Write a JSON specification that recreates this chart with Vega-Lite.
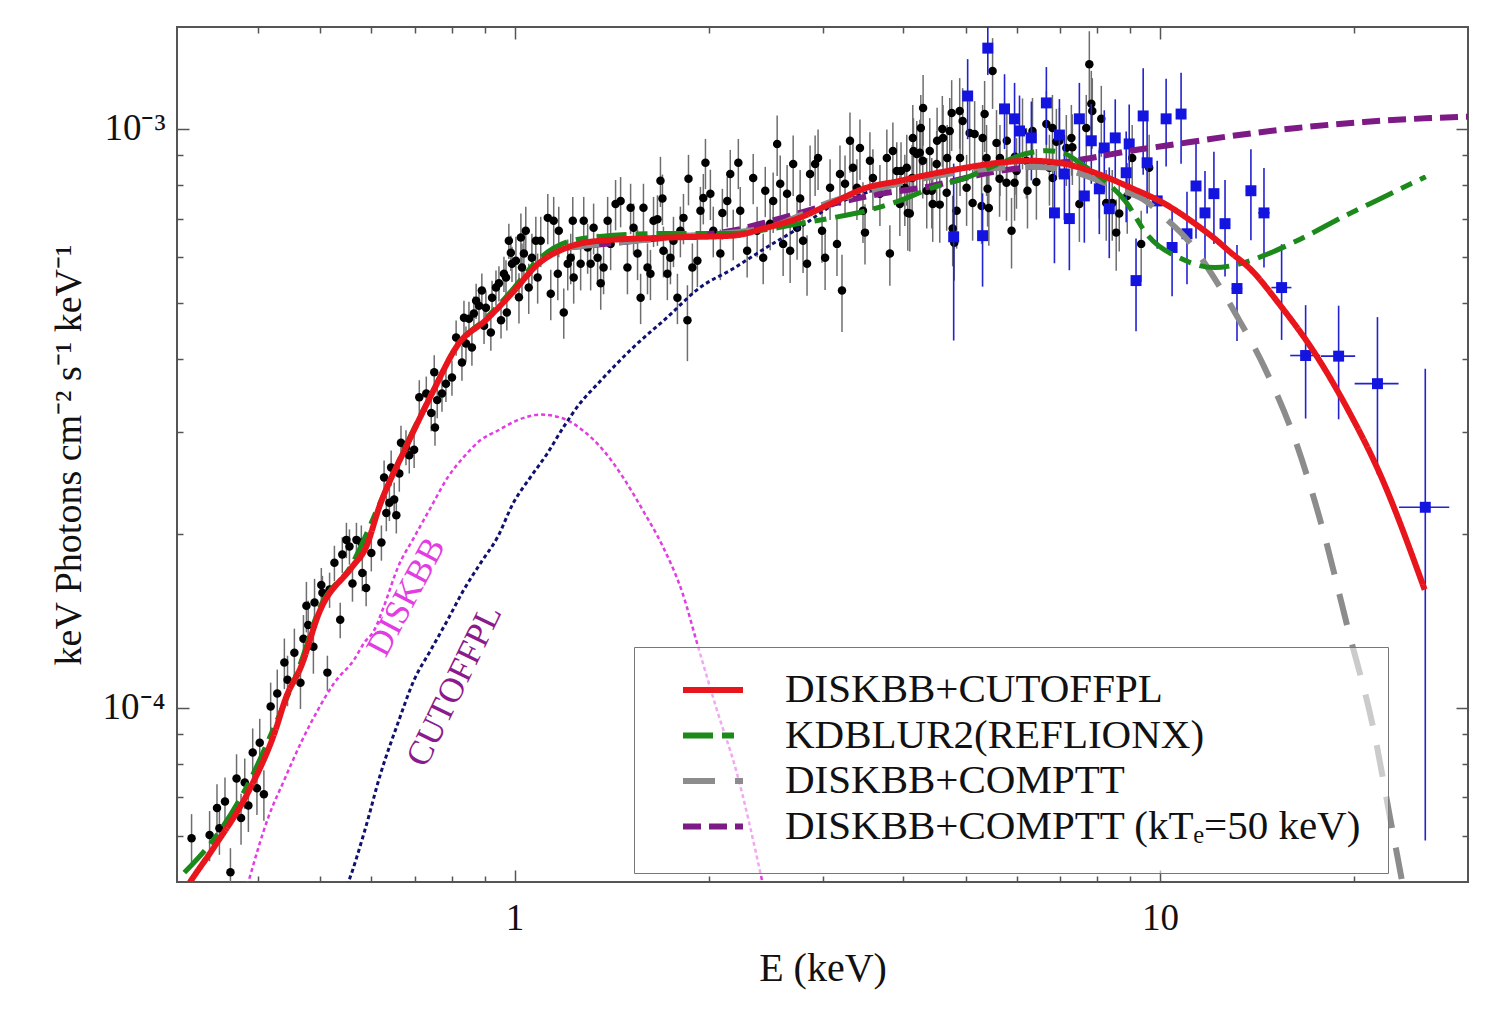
{
"$schema":"https://vega.github.io/schema/vega-lite/v6.json",
"width":1291,"height":855,
"autosize":{"type":"none"},
"padding":{"left":177,"top":27,"right":29,"bottom":137},
"background":"white",
"config":{
 "view":{"stroke":"#555","strokeWidth":2},
 "axis":{"grid":false,"domain":false,"tickColor":"#555","tickWidth":1.5,"labelFont":"Liberation Serif","titleFont":"Liberation Serif","labelFontSize":37,"titleFontSize":40,"titleFontWeight":"normal","labelColor":"#111","titleColor":"#111"}
},
"resolve":{"axis":{"x":"independent","y":"independent"}},
"datasets":{
"black":[
{"e":0.316,"f":5.95e-5,"d":6e-6},{"e":0.337,"f":6.03e-5,"d":6e-6},{"e":0.346,"f":6.71e-5,"d":6.7e-6},{"e":0.349,"f":6.19e-5,"d":6.2e-6},{"e":0.356,"f":6.89e-5,"d":6.9e-6},{"e":0.363,"f":5.2e-5,"d":5.2e-6},{"e":0.371,"f":7.55e-5,"d":7.6e-6},{"e":0.377,"f":6.45e-5,"d":6.5e-6},{"e":0.382,"f":7.43e-5,"d":7.4e-6},{"e":0.387,"f":6.78e-5,"d":6.8e-6},{"e":0.393,"f":8.37e-5,"d":8.4e-6},{"e":0.399,"f":7.26e-5,"d":7.3e-6},{"e":0.403,"f":8.7e-5,"d":8.7e-6},{"e":0.409,"f":7.09e-5,"d":7.1e-6},{"e":0.419,"f":1.005e-4,"d":1e-5},{"e":0.429,"f":1.058e-4,"d":1.06e-5},{"e":0.44,"f":1.197e-4,"d":1.2e-5},{"e":0.445,"f":1.118e-4,"d":1.12e-5},{"e":0.456,"f":1.245e-4,"d":1.25e-5},{"e":0.466,"f":1.105e-4,"d":1.1e-5},{"e":0.471,"f":1.316e-4,"d":1.3e-5},{"e":0.476,"f":1.5e-4,"d":1.5e-5},{"e":0.479,"f":1.39e-4,"d":1.4e-5},{"e":0.488,"f":1.275e-4,"d":1.3e-5},{"e":0.49,"f":1.52e-4,"d":1.5e-5},
{"e":0.502,"f":1.63e-4,"d":1.14e-5},{"e":0.504,"f":1.58e-4,"d":1.1e-5},{"e":0.513,"f":1.15e-4,"d":8e-6},{"e":0.517,"f":1.6e-4,"d":1.12e-5},{"e":0.526,"f":1.78e-4,"d":1.25e-5},{"e":0.537,"f":1.419e-4,"d":1e-5},{"e":0.541,"f":1.84e-4,"d":1.3e-5},{"e":0.549,"f":1.95e-4,"d":1.37e-5},{"e":0.555,"f":1.9e-4,"d":1.33e-5},{"e":0.561,"f":1.64e-4,"d":1.15e-5},{"e":0.569,"f":1.95e-4,"d":1.37e-5},{"e":0.579,"f":1.93e-4,"d":1.35e-5},{"e":0.581,"f":1.71e-4,"d":1.2e-5},{"e":0.589,"f":1.61e-4,"d":1.13e-5},{"e":0.6,"f":1.85e-4,"d":1.3e-5},{"e":0.622,"f":1.93e-4,"d":1.35e-5},{"e":0.628,"f":2.5e-4,"d":1.75e-5},{"e":0.633,"f":2.17e-4,"d":1.52e-5},{"e":0.64,"f":2.26e-4,"d":1.58e-5},{"e":0.644,"f":2.6e-4,"d":1.82e-5},{"e":0.651,"f":2.29e-4,"d":1.6e-5},{"e":0.656,"f":2.15e-4,"d":1.5e-5},{"e":0.663,"f":2.54e-4,"d":1.78e-5},{"e":0.667,"f":2.87e-4,"d":2e-5},{"e":0.679,"f":2.82e-4,"d":1.97e-5},{"e":0.687,"f":2.73e-4,"d":1.91e-5},{"e":0.699,"f":2.79e-4,"d":1.95e-5},{"e":0.712,"f":3.44e-4,"d":2.4e-5},{"e":0.73,"f":3.49e-4,"d":2.44e-5},{"e":0.743,"f":3.23e-4,"d":2.26e-5},{"e":0.751,"f":3.8e-4,"d":2.66e-5},{"e":0.753,"f":3.05e-4,"d":2.14e-5},{"e":0.759,"f":3.4e-4,"d":2.38e-5},{"e":0.772,"f":3.49e-4,"d":2.44e-5},{"e":0.783,"f":3.63e-4,"d":2.54e-5},{"e":0.8,"f":3.72e-4,"d":2.6e-5},{"e":0.812,"f":4.36e-4,"d":3.05e-5},{"e":0.829,"f":3.95e-4,"d":2.77e-5},{"e":0.835,"f":4.72e-4,"d":3.3e-5},{"e":0.841,"f":4.26e-4,"d":2.98e-5},{"e":0.85,"f":4.7e-4,"d":3.29e-5},{"e":0.859,"f":4.19e-4,"d":2.93e-5},{"e":0.865,"f":4.8e-4,"d":3.36e-5},{"e":0.872,"f":5.05e-4,"d":3.54e-5},{"e":0.881,"f":4.95e-4,"d":3.47e-5},{"e":0.89,"f":5.26e-4,"d":3.68e-5},{"e":0.897,"f":4.57e-4,"d":3.2e-5},{"e":0.903,"f":4.91e-4,"d":3.44e-5},{"e":0.919,"f":4.45e-4,"d":3.12e-5},{"e":0.923,"f":5.11e-4,"d":3.58e-5},{"e":0.936,"f":5.32e-4,"d":3.72e-5},{"e":0.946,"f":5.41e-4,"d":3.79e-5},{"e":0.953,"f":4.67e-4,"d":3.27e-5},{"e":0.963,"f":5.62e-4,"d":3.93e-5},{"e":0.97,"f":5.54e-4,"d":3.88e-5},{"e":0.973,"f":4.82e-4,"d":3.37e-5},{"e":0.98,"f":6.41e-4,"d":4.49e-5},{"e":0.987,"f":6.11e-4,"d":4.28e-5},{"e":0.991,"f":5.85e-4,"d":4.1e-5},
{"e":1.005,"f":5.92e-4,"d":5.9e-5},{"e":1.016,"f":5.12e-4,"d":5.1e-5},{"e":1.023,"f":6.49e-4,"d":6.5e-5},{"e":1.027,"f":5.76e-4,"d":5.8e-5},{"e":1.034,"f":6.09e-4,"d":6.1e-5},{"e":1.041,"f":6.67e-4,"d":6.7e-5},{"e":1.052,"f":5.32e-4,"d":5.3e-5},{"e":1.064,"f":5.99e-4,"d":6e-5},{"e":1.079,"f":6.41e-4,"d":6.4e-5},{"e":1.086,"f":5.54e-4,"d":5.5e-5},{"e":1.098,"f":6.41e-4,"d":6.4e-5},{"e":1.126,"f":7.02e-4,"d":7e-5},{"e":1.138,"f":5.19e-4,"d":5.2e-5},{"e":1.15,"f":6.94e-4,"d":6.9e-5},{"e":1.167,"f":5.62e-4,"d":5.6e-5},{"e":1.171,"f":6.67e-4,"d":6.7e-5},{"e":1.192,"f":4.82e-4,"d":4.8e-5},{"e":1.209,"f":5.85e-4,"d":5.9e-5},{"e":1.222,"f":5.99e-4,"d":6e-5},{"e":1.231,"f":6.94e-4,"d":6.9e-5},{"e":1.235,"f":5.54e-4,"d":5.5e-5},{"e":1.266,"f":5.85e-4,"d":5.9e-5},{"e":1.28,"f":6.94e-4,"d":6.9e-5},{"e":1.298,"f":6.24e-4,"d":6.2e-5},{"e":1.312,"f":5.85e-4,"d":5.9e-5},{"e":1.326,"f":6.75e-4,"d":6.8e-5},{"e":1.345,"f":5.99e-4,"d":6e-5},{"e":1.36,"f":5.41e-4,"d":5.4e-5},{"e":1.374,"f":5.76e-4,"d":5.8e-5},{"e":1.394,"f":6.94e-4,"d":6.9e-5},{"e":1.409,"f":6.33e-4,"d":6.3e-5},{"e":1.434,"f":7.42e-4,"d":7.4e-5},{"e":1.46,"f":7.51e-4,"d":7.5e-5},{"e":1.496,"f":5.76e-4,"d":5.8e-5},{"e":1.513,"f":7.31e-4,"d":7.3e-5},{"e":1.529,"f":6.75e-4,"d":6.8e-5},{"e":1.551,"f":6.09e-4,"d":6.1e-5},{"e":1.568,"f":5.11e-4,"d":5.1e-5},{"e":1.584,"f":7.31e-4,"d":7.3e-5},{"e":1.607,"f":5.76e-4,"d":5.8e-5},{"e":1.624,"f":5.62e-4,"d":5.6e-5},{"e":1.642,"f":6.94e-4,"d":6.9e-5},{"e":1.665,"f":6.98e-4,"d":7e-5},{"e":1.683,"f":8.14e-4,"d":8.1e-5},{"e":1.695,"f":7.58e-4,"d":7.6e-5},{"e":1.701,"f":6.16e-4,"d":6.2e-5},{"e":1.725,"f":5.62e-4,"d":5.6e-5},{"e":1.744,"f":5.99e-4,"d":6e-5},{"e":1.763,"f":6.41e-4,"d":6.4e-5},{"e":1.788,"f":5.11e-4,"d":5.1e-5},{"e":1.807,"f":6.67e-4,"d":6.7e-5},{"e":1.827,"f":7.02e-4,"d":7e-5},{"e":1.853,"f":4.67e-4,"d":7e-5},{"e":1.86,"f":8.2e-4,"d":8.2e-5},{"e":1.886,"f":5.76e-4,"d":5.8e-5},{"e":1.92,"f":5.92e-4,"d":5.9e-5},{"e":1.941,"f":7.22e-4,"d":7.2e-5},{"e":1.961,"f":7.6e-4,"d":7.6e-5},{"e":1.976,"f":8.74e-4,"d":8.7e-5},{"e":2.011,"f":7.73e-4,"d":7.7e-5},{"e":2.032,"f":6.67e-4,"d":6.7e-5},{"e":2.084,"f":6.09e-4,"d":6.1e-5},{"e":2.099,"f":7.16e-4,"d":7.2e-5},{"e":2.136,"f":7.51e-4,"d":7.5e-5},{"e":2.159,"f":8.36e-4,"d":8.4e-5},{"e":2.182,"f":6.59e-4,"d":6.6e-5},{"e":2.222,"f":8.74e-4,"d":8.7e-5},{"e":2.237,"f":7.22e-4,"d":7.2e-5},{"e":2.293,"f":6.16e-4,"d":6.2e-5},{"e":2.343,"f":8.23e-4,"d":8.2e-5},{"e":2.376,"f":6.67e-4,"d":6.7e-5},{"e":2.428,"f":5.99e-4,"d":6e-5},{"e":2.446,"f":7.82e-4,"d":7.8e-5},{"e":2.489,"f":6.86e-4,"d":6.9e-5},
{"e":2.516,"f":7.51e-4,"d":9e-5},{"e":2.552,"f":9.42e-4,"d":1.13e-4},{"e":2.58,"f":8.04e-4,"d":9.6e-5},{"e":2.607,"f":6.33e-4,"d":7.6e-5},{"e":2.644,"f":7.73e-4,"d":9.3e-5},{"e":2.673,"f":6.16e-4,"d":7.4e-5},{"e":2.702,"f":8.7e-4,"d":1.04e-4},{"e":2.74,"f":6.75e-4,"d":8.1e-5},{"e":2.77,"f":7.58e-4,"d":9.1e-5},{"e":2.799,"f":6.41e-4,"d":7.7e-5},{"e":2.839,"f":5.85e-4,"d":7e-5},{"e":2.87,"f":8.36e-4,"d":1e-4},{"e":2.922,"f":8.7e-4,"d":1.04e-4},{"e":2.953,"f":8.91e-4,"d":1.07e-4},{"e":2.995,"f":6.67e-4,"d":8e-5},{"e":3.028,"f":5.99e-4,"d":7.2e-5},{"e":3.082,"f":7.91e-4,"d":9.5e-5},{"e":3.159,"f":6.33e-4,"d":7.6e-5},{"e":3.193,"f":8.36e-4,"d":1e-4},{"e":3.216,"f":5.26e-4,"d":8e-5},{"e":3.251,"f":8.04e-4,"d":9.6e-5},{"e":3.309,"f":9.54e-4,"d":1.14e-4},{"e":3.344,"f":8.57e-4,"d":1.03e-4},{"e":3.392,"f":7.91e-4,"d":9.5e-5},{"e":3.429,"f":9.27e-4,"d":1.11e-4},{"e":3.466,"f":7.22e-4,"d":8.7e-5},{"e":3.491,"f":6.62e-4,"d":7.9e-5},{"e":3.553,"f":8.81e-4,"d":1.06e-4},{"e":3.591,"f":8.23e-4,"d":9.9e-5},{"e":3.682,"f":7.73e-4,"d":9.3e-5},{"e":3.774,"f":8.91e-4,"d":1.07e-4},{"e":3.815,"f":6.09e-4,"d":7.3e-5},{"e":3.856,"f":9.16e-4,"d":1.1e-4},{"e":3.91,"f":8.46e-4,"d":1.02e-4},{"e":3.953,"f":7.42e-4,"d":8.9e-5},{"e":3.97,"f":8.46e-4,"d":1.02e-4},
{"e":4.024,"f":7.91e-4,"d":1.11e-4},{"e":4.052,"f":8.57e-4,"d":1.2e-4},{"e":4.067,"f":7.16e-4,"d":1e-4},{"e":4.096,"f":7.14e-4,"d":1e-4},{"e":4.13,"f":8.23e-4,"d":1.15e-4},{"e":4.14,"f":9.65e-4,"d":1.35e-4},{"e":4.15,"f":9.16e-4,"d":1.28e-4},{"e":4.199,"f":9.05e-4,"d":1.27e-4},{"e":4.245,"f":9.1e-4,"d":1.27e-4},{"e":4.26,"f":1.004e-3,"d":1.4e-4},{"e":4.29,"f":8.81e-4,"d":1.23e-4},{"e":4.295,"f":1.087e-3,"d":1.52e-4},{"e":4.351,"f":7.82e-4,"d":1.09e-4},{"e":4.398,"f":9.16e-4,"d":1.28e-4},{"e":4.43,"f":7.82e-4,"d":1.09e-4},{"e":4.445,"f":7.42e-4,"d":1.04e-4},{"e":4.508,"f":8.7e-4,"d":1.22e-4},{"e":4.515,"f":9.54e-4,"d":1.34e-4},{"e":4.558,"f":7.4e-4,"d":1.04e-4},{"e":4.6,"f":1.0e-3,"d":1.4e-4},{"e":4.612,"f":9.65e-4,"d":1.35e-4},{"e":4.672,"f":7.76e-4,"d":1.09e-4},{"e":4.68,"f":8.91e-4,"d":1.25e-4},{"e":4.723,"f":9.92e-4,"d":1.39e-4},{"e":4.756,"f":1.065e-3,"d":1.49e-4},{"e":4.773,"f":6.73e-4,"d":9.4e-5},{"e":4.8,"f":6.36e-4,"d":8.9e-5},{"e":4.841,"f":7.22e-4,"d":1.01e-4},{"e":4.894,"f":1.074e-3,"d":1.5e-4},{"e":4.9,"f":8.91e-4,"d":1.25e-4},{"e":4.946,"f":1.032e-3,"d":1.44e-4},{"e":5.016,"f":7.91e-4,"d":1.11e-4},{"e":5.071,"f":9.84e-4,"d":1.38e-4},{"e":5.125,"f":7.45e-4,"d":1.04e-4},{"e":5.162,"f":9.8e-4,"d":1.37e-4},{"e":5.292,"f":7.36e-4,"d":1.03e-4},{"e":5.311,"f":9.65e-4,"d":1.35e-4},{"e":5.349,"f":1.061e-3,"d":1.49e-4},{"e":5.386,"f":8.91e-4,"d":1.25e-4},{"e":5.406,"f":7.88e-4,"d":1.1e-4},{"e":5.43,"f":7.3e-4,"d":1.02e-4},{"e":5.503,"f":1.259e-3,"d":1.76e-4},{"e":5.581,"f":9.46e-4,"d":1.32e-4},{"e":5.642,"f":8.2e-4,"d":1.15e-4},{"e":5.65,"f":8.91e-4,"d":1.25e-4},{"e":5.783,"f":8.07e-4,"d":1.13e-4},{"e":5.79,"f":9.54e-4,"d":1.34e-4},{"e":5.888,"f":6.67e-4,"d":9.3e-5},{"e":5.952,"f":8.07e-4,"d":1.13e-4},{"e":5.96,"f":8.95e-4,"d":1.25e-4},{"e":5.993,"f":8.46e-4,"d":1.18e-4},{"e":6.123,"f":9.9e-4,"d":1.39e-4},{"e":6.209,"f":8.81e-4,"d":1.23e-4},{"e":6.233,"f":7.82e-4,"d":1.09e-4},{"e":6.345,"f":9.92e-4,"d":1.39e-4},{"e":6.434,"f":8.1e-4,"d":1.13e-4},{"e":6.667,"f":1.02e-3,"d":1.43e-4},{"e":6.74,"f":8.57e-4,"d":1.2e-4},{"e":6.813,"f":1.004e-3,"d":1.41e-4},{"e":6.82,"f":8.23e-4,"d":1.15e-4},{"e":6.909,"f":9.5e-4,"d":1.33e-4},{"e":6.985,"f":9.54e-4,"d":1.34e-4},{"e":7.159,"f":9.27e-4,"d":1.3e-4},{"e":7.289,"f":9.65e-4,"d":1.35e-4},{"e":7.315,"f":9.3e-4,"d":1.3e-4},{"e":7.5,"f":7.42e-4,"d":1.04e-4},{"e":7.687,"f":1.004e-3,"d":1.41e-4},{"e":7.771,"f":1.294e-3,"d":1.81e-4},{"e":7.826,"f":1.105e-3,"d":1.55e-4},{"e":7.854,"f":1.074e-3,"d":1.5e-4},{"e":8.053,"f":8.14e-4,"d":1.14e-4},{"e":8.11,"f":1.041e-3,"d":1.46e-4},{"e":8.254,"f":7.45e-4,"d":1.04e-4},{"e":8.433,"f":7.45e-4,"d":1.04e-4},{"e":8.553,"f":6.62e-4,"d":9.3e-5},{"e":8.646,"f":7.14e-4,"d":1e-4},{"e":8.897,"f":7.66e-4,"d":1.07e-4},{"e":9.055,"f":8.91e-4,"d":1.25e-4},{"e":9.35,"f":6.33e-4,"d":8.9e-5},{"e":9.62,"f":8.57e-4,"d":1.2e-4}
],
"blue":[
{"e":4.79,"f":6.51e-4,"d":2.2e-4,"dx":0},{"e":5.035,"f":1.14e-3,"d":1.8e-4,"dx":0},{"e":5.31,"f":6.54e-4,"d":1.2e-4,"dx":0},{"e":5.41,"f":1.379e-3,"d":1.4e-4,"dx":0},{"e":5.743,"f":1.083e-3,"d":1.6e-4,"dx":0},{"e":5.952,"f":1.041e-3,"d":1.6e-4,"dx":0},{"e":6.058,"f":9.92e-4,"d":1.5e-4,"dx":0},{"e":6.32,"f":9.65e-4,"d":1.5e-4,"dx":0},{"e":6.667,"f":1.109e-3,"d":1.7e-4,"dx":0},{"e":6.862,"f":7.16e-4,"d":1.3e-4,"dx":0},{"e":6.985,"f":9.76e-4,"d":1.5e-4,"dx":0},{"e":7.11,"f":8.36e-4,"d":1.4e-4,"dx":0},{"e":7.237,"f":7.0e-4,"d":1.3e-4,"dx":0},{"e":7.5,"f":1.041e-3,"d":1.6e-4,"dx":0},{"e":7.634,"f":7.66e-4,"d":1.3e-4,"dx":0},{"e":7.826,"f":9.54e-4,"d":1.5e-4,"dx":0},{"e":8.053,"f":7.88e-4,"d":1.3e-4,"dx":0},{"e":8.197,"f":9.27e-4,"d":1.5e-4,"dx":0},{"e":8.344,"f":7.28e-4,"d":1.3e-4,"dx":0},{"e":8.524,"f":9.65e-4,"d":1.6e-4,"dx":0},{"e":8.863,"f":8.4e-4,"d":1.5e-4,"dx":0},{"e":8.959,"f":9.42e-4,"d":1.6e-4,"dx":0},{"e":9.18,"f":5.47e-4,"d":1.0e-4,"dx":0},{"e":9.417,"f":1.053e-3,"d":2.2e-4,"dx":0},{"e":9.55,"f":8.74e-4,"d":1.6e-4,"dx":0},{"e":9.9,"f":7.51e-4,"d":1.3e-4,"dx":0},{"e":10.22,"f":1.041e-3,"d":1.8e-4,"dx":0},{"e":10.44,"f":6.24e-4,"d":1.1e-4,"dx":0},{"e":10.78,"f":1.061e-3,"d":1.9e-4,"dx":0},{"e":11.01,"f":6.59e-4,"d":1.2e-4,"dx":0},{"e":11.37,"f":7.97e-4,"d":1.5e-4,"dx":0},{"e":11.74,"f":7.16e-4,"d":1.3e-4,"dx":0},{"e":12.12,"f":7.73e-4,"d":1.4e-4,"dx":0},{"e":12.61,"f":6.86e-4,"d":1.3e-4,"dx":0},{"e":13.16,"f":5.3e-4,"d":1.0e-4,"dx":0.25},{"e":13.83,"f":7.82e-4,"d":1.4e-4,"dx":0.25},{"e":14.49,"f":7.16e-4,"d":1.4e-4,"dx":0.3},{"e":15.43,"f":5.32e-4,"d":1.0e-4,"dx":0.55},{"e":16.81,"f":4.06e-4,"d":9e-5,"dx":0.9},{"e":18.91,"f":4.05e-4,"d":9e-5,"dx":1.15},{"e":21.72,"f":3.63e-4,"d":1.1e-4,"dx":1.7},{"e":25.76,"f":2.22e-4,"d":1.63e-4,"dx":2.3}
],
"red":[{"e":0.31,"f":4.88e-5},{"e":0.314,"f":4.99e-5},{"e":0.343,"f":5.76e-5},{"e":0.387,"f":7.16e-5},{"e":0.425,"f":9.06e-5},{"e":0.443,"f":1.044e-4},{"e":0.467,"f":1.178e-4},{"e":0.498,"f":1.459e-4},{"e":0.56,"f":1.75e-4},{"e":0.589,"f":1.895e-4},{"e":0.617,"f":2.22e-4},{"e":0.679,"f":2.82e-4},{"e":0.745,"f":3.49e-4},{"e":0.82,"f":4.26e-4},{"e":0.902,"f":4.67e-4},{"e":0.989,"f":5.19e-4},{"e":1.089,"f":5.85e-4},{"e":1.207,"f":6.24e-4},{"e":1.357,"f":6.41e-4},{"e":1.722,"f":6.49e-4},{"e":2.177,"f":6.54e-4},{"e":2.456,"f":6.75e-4},{"e":2.762,"f":7.02e-4},{"e":3.107,"f":7.45e-4},{"e":3.506,"f":7.91e-4},{"e":3.943,"f":8.13e-4},{"e":4.433,"f":8.36e-4},{"e":5.0,"f":8.57e-4},{"e":5.62,"f":8.74e-4},{"e":6.32,"f":8.81e-4},{"e":7.13,"f":8.7e-4},{"e":8.02,"f":8.36e-4},{"e":9.02,"f":7.91e-4},{"e":10.18,"f":7.42e-4},{"e":11.45,"f":6.8e-4},{"e":12.16,"f":6.46e-4},{"e":12.88,"f":6.11e-4},{"e":13.73,"f":5.76e-4},{"e":15.37,"f":4.95e-4},{"e":17.34,"f":4.11e-4},{"e":19.5,"f":3.29e-4},{"e":21.93,"f":2.53e-4},{"e":25.7,"f":1.6e-4}],
"green":[{"e":0.308,"f":5.19e-5},{"e":0.343,"f":5.95e-5},{"e":0.387,"f":7.4e-5},{"e":0.425,"f":9.3e-5},{"e":0.467,"f":1.2e-4},{"e":0.498,"f":1.48e-4},{"e":0.56,"f":1.77e-4},{"e":0.617,"f":2.24e-4},{"e":0.679,"f":2.84e-4},{"e":0.745,"f":3.5e-4},{"e":0.82,"f":4.27e-4},{"e":0.902,"f":4.7e-4},{"e":0.989,"f":5.25e-4},{"e":1.089,"f":5.95e-4},{"e":1.207,"f":6.38e-4},{"e":1.357,"f":6.52e-4},{"e":1.722,"f":6.6e-4},{"e":2.177,"f":6.6e-4},{"e":2.456,"f":6.7e-4},{"e":2.762,"f":6.86e-4},{"e":3.107,"f":7.02e-4},{"e":3.506,"f":7.22e-4},{"e":3.943,"f":7.51e-4},{"e":4.433,"f":7.91e-4},{"e":5.0,"f":8.23e-4},{"e":5.62,"f":8.7e-4},{"e":6.19,"f":9.06e-4},{"e":6.7,"f":9.17e-4},{"e":7.13,"f":9.06e-4},{"e":7.55,"f":8.7e-4},{"e":8.22,"f":8.13e-4},{"e":8.83,"f":7.51e-4},{"e":9.58,"f":6.54e-4},{"e":10.78,"f":5.97e-4},{"e":12.16,"f":5.76e-4},{"e":13.14,"f":5.83e-4},{"e":14.47,"f":6.04e-4},{"e":16.3,"f":6.41e-4},{"e":19.5,"f":7.11e-4},{"e":21.9,"f":7.57e-4},{"e":25.8,"f":8.27e-4}],
"gray":[{"e":1.207,"f":6.24e-4},{"e":1.722,"f":6.49e-4},{"e":2.456,"f":6.75e-4},{"e":3.107,"f":7.5e-4},{"e":3.943,"f":8.05e-4},{"e":5.0,"f":8.45e-4},{"e":6.32,"f":8.6e-4},{"e":7.13,"f":8.5e-4},{"e":8.02,"f":8.15e-4},{"e":8.83,"f":7.8e-4},{"e":9.5,"f":7.51e-4},{"e":10.18,"f":7.02e-4},{"e":11.06,"f":6.41e-4},{"e":12.28,"f":5.41e-4},{"e":13.14,"f":4.76e-4},{"e":14.47,"f":3.9e-4},{"e":16.3,"f":2.84e-4},{"e":17.9,"f":2.02e-4},{"e":19.5,"f":1.385e-4},{"e":21.5,"f":8.99e-5},{"e":22.7,"f":6.49e-5},{"e":23.8,"f":4.9e-5},{"e":24.2,"f":4.4e-5}],
"purple":[{"e":1.207,"f":6.24e-4},{"e":1.722,"f":6.49e-4},{"e":2.177,"f":6.67e-4},{"e":2.6,"f":7.02e-4},{"e":3.107,"f":7.42e-4},{"e":3.71,"f":7.73e-4},{"e":4.433,"f":7.97e-4},{"e":5.0,"f":8.23e-4},{"e":5.62,"f":8.46e-4},{"e":6.32,"f":8.6e-4},{"e":7.13,"f":8.77e-4},{"e":7.82,"f":8.91e-4},{"e":9.02,"f":9.17e-4},{"e":10.18,"f":9.35e-4},{"e":12.88,"f":9.72e-4},{"e":16.3,"f":1.004e-3},{"e":20.7,"f":1.028e-3},{"e":26.2,"f":1.044e-3},{"e":30,"f":1.05e-3}],
"diskbb":[{"e":0.383,"f":4.8e-5},{"e":0.387,"f":5.0e-5},{"e":0.416,"f":6.49e-5},{"e":0.44,"f":7.51e-5},{"e":0.467,"f":8.71e-5},{"e":0.496,"f":9.92e-5},{"e":0.526,"f":1.105e-4},{"e":0.564,"f":1.21e-4},{"e":0.585,"f":1.295e-4},{"e":0.606,"f":1.36e-4},{"e":0.628,"f":1.5e-4},{"e":0.66,"f":1.75e-4},{"e":0.699,"f":1.97e-4},{"e":0.742,"f":2.22e-4},{"e":0.788,"f":2.5e-4},{"e":0.834,"f":2.71e-4},{"e":0.886,"f":2.9e-4},{"e":0.941,"f":3.01e-4},{"e":1.011,"f":3.14e-4},{"e":1.097,"f":3.21e-4},{"e":1.19,"f":3.16e-4},{"e":1.278,"f":3.01e-4},{"e":1.371,"f":2.79e-4},{"e":1.473,"f":2.5e-4},{"e":1.582,"f":2.19e-4},{"e":1.699,"f":1.895e-4},{"e":1.825,"f":1.566e-4},{"e":1.917,"f":1.295e-4},{"e":2.058,"f":9.92e-5},{"e":2.209,"f":7.73e-5},{"e":2.397,"f":5.26e-5},{"e":2.44,"f":4.8e-5}],
"cutoffpl":[{"e":0.545,"f":4.8e-5},{"e":0.553,"f":5.0e-5},{"e":0.585,"f":6.09e-5},{"e":0.621,"f":7.73e-5},{"e":0.66,"f":9.42e-5},{"e":0.699,"f":1.117e-4},{"e":0.742,"f":1.259e-4},{"e":0.788,"f":1.419e-4},{"e":0.834,"f":1.597e-4},{"e":0.886,"f":1.778e-4},{"e":0.941,"f":1.97e-4},{"e":0.996,"f":2.26e-4},{"e":1.058,"f":2.5e-4},{"e":1.124,"f":2.75e-4},{"e":1.19,"f":3.05e-4},{"e":1.264,"f":3.36e-4},{"e":1.343,"f":3.62e-4},{"e":1.526,"f":4.19e-4},{"e":1.722,"f":4.72e-4},{"e":1.937,"f":5.32e-4},{"e":2.177,"f":5.73e-4},{"e":2.456,"f":6.24e-4},{"e":2.762,"f":6.75e-4},{"e":3.107,"f":7.37e-4},{"e":3.506,"f":7.76e-4},{"e":3.943,"f":8.07e-4}]
},
"layer":[
{"data":{"name":"black"},
 "mark":{"type":"errorbar","color":"#6e6e6e","thickness":1.5,"clip":true},
 "encoding":{"x":{"field":"e","type":"quantitative","scale":{"type":"log","domain":[0.3,30],"nice":false},"axis":null},
  "y":{"field":"f","type":"quantitative","scale":{"type":"log","domain":[5e-5,1.5e-3],"nice":false},"axis":null},
  "yError":{"field":"d"}}},
{"data":{"name":"black"},
 "mark":{"type":"point","filled":true,"shape":"circle","size":72,"color":"#000","opacity":1},
 "encoding":{"x":{"field":"e","type":"quantitative","scale":{"type":"log","domain":[0.3,30],"nice":false},
   "axis":{"orient":"bottom","values":[1,10],"tickSize":-12,"labelExpr":"datum.value < 5 ? '1' : '10'","labelPadding":30,"title":"E (keV)","titlePadding":12}},
  "y":{"field":"f","type":"quantitative","scale":{"type":"log","domain":[5e-5,1.5e-3],"nice":false},
   "axis":{"orient":"left","values":[0.0001,0.001],"tickSize":-12,"labelExpr":"datum.value < 0.0005 ? '10⁻⁴' : '10⁻³'","labelPadding":24,"title":"keV Photons cm⁻² s⁻¹ keV⁻¹","titlePadding":14,"titleFontSize":38}}}},
{"data":{"name":"blue"},
 "mark":{"type":"errorbar","color":"#2222d0","thickness":1.6,"clip":true},
 "encoding":{"x":{"field":"e","type":"quantitative","scale":{"type":"log","domain":[0.3,30],"nice":false},"axis":null},
  "y":{"field":"f","type":"quantitative","scale":{"type":"log","domain":[5e-5,1.5e-3],"nice":false},"axis":null},
  "yError":{"field":"d"}}},
{"data":{"name":"blue"},
 "mark":{"type":"errorbar","color":"#2222d0","thickness":1.6,"clip":true},
 "encoding":{"x":{"field":"e","type":"quantitative","scale":{"type":"log","domain":[0.3,30],"nice":false},"axis":null},
  "xError":{"field":"dx"},
  "y":{"field":"f","type":"quantitative","scale":{"type":"log","domain":[5e-5,1.5e-3],"nice":false},"axis":null}}},
{"data":{"name":"blue"},
 "mark":{"type":"square","filled":true,"size":120,"color":"#1414e0","opacity":1},
 "encoding":{"x":{"field":"e","type":"quantitative","scale":{"type":"log","domain":[0.3,30],"nice":false},
   "axis":{"orient":"bottom","values":[0.4,0.5,0.6,0.7,0.8,0.9,2,3,4,5,6,7,8,9,20],"tickSize":-6,"labels":false,"title":null}},
  "y":{"field":"f","type":"quantitative","scale":{"type":"log","domain":[5e-5,1.5e-3],"nice":false},
   "axis":{"orient":"left","values":[6e-5,7e-5,8e-5,9e-5,2e-4,3e-4,4e-4,5e-4,6e-4,7e-4,8e-4,9e-4],"tickSize":-6,"labels":false,"title":null}}}},
{"data":{"name":"diskbb"},
 "mark":{"type":"line","color":"#e23ce2","strokeWidth":2.5,"strokeDash":[4,3],"interpolate":"monotone","clip":true},
 "encoding":{"x":{"field":"e","type":"quantitative","scale":{"type":"log","domain":[0.3,30],"nice":false},
   "axis":{"orient":"top","values":[1,10],"tickSize":-12,"labels":false,"title":null}},
  "y":{"field":"f","type":"quantitative","scale":{"type":"log","domain":[5e-5,1.5e-3],"nice":false},
   "axis":{"orient":"right","values":[0.0001,0.001],"tickSize":-12,"labels":false,"title":null}}}},
{"data":{"name":"cutoffpl"},
 "mark":{"type":"line","color":"#10106e","strokeWidth":3,"strokeDash":[4,3],"interpolate":"monotone","clip":true},
 "encoding":{"x":{"field":"e","type":"quantitative","scale":{"type":"log","domain":[0.3,30],"nice":false},
   "axis":{"orient":"top","values":[0.4,0.5,0.6,0.7,0.8,0.9,2,3,4,5,6,7,8,9,20],"tickSize":-6,"labels":false,"title":null}},
  "y":{"field":"f","type":"quantitative","scale":{"type":"log","domain":[5e-5,1.5e-3],"nice":false},
   "axis":{"orient":"right","values":[6e-5,7e-5,8e-5,9e-5,2e-4,3e-4,4e-4,5e-4,6e-4,7e-4,8e-4,9e-4],"tickSize":-6,"labels":false,"title":null}}}},
{"data":{"name":"purple"},
 "mark":{"type":"line","strokeWidth":6,"interpolate":"monotone","clip":true,"strokeCap":"butt"},
 "encoding":{"x":{"field":"e","type":"quantitative","scale":{"type":"log","domain":[0.3,30],"nice":false},"axis":null},
  "y":{"field":"f","type":"quantitative","scale":{"type":"log","domain":[5e-5,1.5e-3],"nice":false},"axis":null},
  "color":{"datum":"DISKBB+COMPTT (kTₑ=50 keV)","type":"nominal","scale":{"domain":["DISKBB+CUTOFFPL","KDBLUR2(REFLIONX)","DISKBB+COMPTT","DISKBB+COMPTT (kTₑ=50 keV)"],"range":["#e8161c","#1b8a1b","#8c8c8c","#7d1a85"]},
   "legend":{"title":null,"orient":"none","legendX":457,"legendY":620,"labelFont":"Liberation Serif","labelFontSize":41,"labelColor":"#111","labelLimit":1000,"symbolType":"stroke","symbolSize":3600,"symbolStrokeWidth":6,"padding":26,"symbolOffset":20,"labelOffset":39,"rowPadding":4.5,"clipHeight":34,"strokeColor":"#777","fillColor":"rgba(255,255,255,0.55)","zindex":1}},
  "strokeDash":{"datum":"DISKBB+COMPTT (kTₑ=50 keV)","type":"nominal","scale":{"domain":["DISKBB+CUTOFFPL","KDBLUR2(REFLIONX)","DISKBB+COMPTT","DISKBB+COMPTT (kTₑ=50 keV)"],"range":[[1,0],[30,9,12,9],[32,20],[18,8]]},
   "legend":{"title":null,"orient":"none","legendX":457,"legendY":620,"labelFont":"Liberation Serif","labelFontSize":41,"labelColor":"#111","labelLimit":1000,"symbolType":"stroke","symbolSize":3600,"symbolStrokeWidth":6,"padding":26,"symbolOffset":20,"labelOffset":39,"rowPadding":4.5,"clipHeight":34,"strokeColor":"#777","fillColor":"rgba(255,255,255,0.55)","zindex":1}}}},
{"data":{"name":"gray"},
 "mark":{"type":"line","strokeWidth":6,"interpolate":"monotone","clip":true,"strokeCap":"butt"},
 "encoding":{"x":{"field":"e","type":"quantitative","scale":{"type":"log","domain":[0.3,30],"nice":false},"axis":null},
  "y":{"field":"f","type":"quantitative","scale":{"type":"log","domain":[5e-5,1.5e-3],"nice":false},"axis":null},
  "color":{"datum":"DISKBB+COMPTT","type":"nominal"},
  "strokeDash":{"datum":"DISKBB+COMPTT","type":"nominal"}}},
{"data":{"name":"green"},
 "mark":{"type":"line","strokeWidth":5,"interpolate":"monotone","clip":true,"strokeCap":"butt"},
 "encoding":{"x":{"field":"e","type":"quantitative","scale":{"type":"log","domain":[0.3,30],"nice":false},"axis":null},
  "y":{"field":"f","type":"quantitative","scale":{"type":"log","domain":[5e-5,1.5e-3],"nice":false},"axis":null},
  "color":{"datum":"KDBLUR2(REFLIONX)","type":"nominal"},
  "strokeDash":{"datum":"KDBLUR2(REFLIONX)","type":"nominal"}}},
{"data":{"name":"red"},
 "mark":{"type":"line","strokeWidth":6,"interpolate":"monotone","clip":true,"strokeCap":"butt"},
 "encoding":{"x":{"field":"e","type":"quantitative","scale":{"type":"log","domain":[0.3,30],"nice":false},"axis":null},
  "y":{"field":"f","type":"quantitative","scale":{"type":"log","domain":[5e-5,1.5e-3],"nice":false},"axis":null},
  "color":{"datum":"DISKBB+CUTOFFPL","type":"nominal"},
  "strokeDash":{"datum":"DISKBB+CUTOFFPL","type":"nominal"}}},
{"data":{"values":[{"e":0.679,"f":1.554e-4,"t":"DISKBB"}]},
 "mark":{"type":"text","angle":298,"font":"Liberation Serif","fontSize":35,"color":"#e23ce2","align":"center","baseline":"middle"},
 "encoding":{"x":{"field":"e","type":"quantitative","scale":{"type":"log","domain":[0.3,30],"nice":false},"axis":null},
  "y":{"field":"f","type":"quantitative","scale":{"type":"log","domain":[5e-5,1.5e-3],"nice":false},"axis":null},
  "text":{"field":"t"}}},
{"data":{"values":[{"e":0.806,"f":1.092e-4,"t":"CUTOFFPL"}]},
 "mark":{"type":"text","angle":296,"font":"Liberation Serif","fontSize":35,"color":"#8b1a8b","align":"center","baseline":"middle"},
 "encoding":{"x":{"field":"e","type":"quantitative","scale":{"type":"log","domain":[0.3,30],"nice":false},"axis":null},
  "y":{"field":"f","type":"quantitative","scale":{"type":"log","domain":[5e-5,1.5e-3],"nice":false},"axis":null},
  "text":{"field":"t"}}}
]
}
